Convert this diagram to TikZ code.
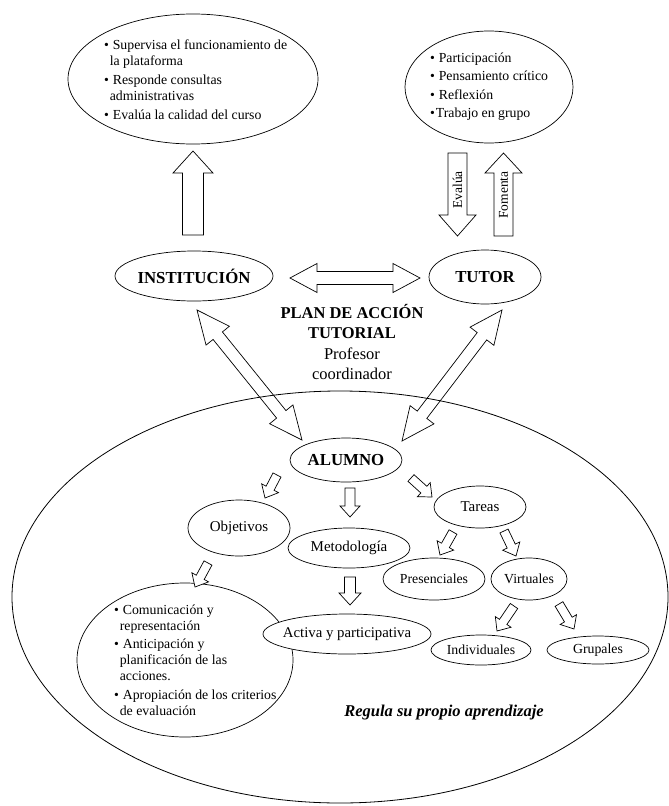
\documentclass[tikz,border=0pt]{standalone}
\usepackage{fontspec}
\setmainfont{Liberation Serif}
\usetikzlibrary{calc,shapes.geometric}

\newcommand\blockarrow[6][fill=white]{% style, tail, tip, w, h, L
  \coordinate (tmph) at ($(#3)!#6!(#2)$);
  \draw[barrow,#1] ($(#2)!#4!90:(#3)$) -- ($(tmph)!#4!90:(#3)$) -- ($(tmph)!#5!90:(#3)$) -- (#3) -- ($(tmph)!#5!-90:(#3)$) -- ($(tmph)!#4!-90:(#3)$) -- ($(#2)!#4!-90:(#3)$) -- cycle;
}
\newcommand\dblarrow[5]{% A, B, w, h, L
  \coordinate (tmpa) at ($(#1)!#5!(#2)$);
  \coordinate (tmpb) at ($(#2)!#5!(#1)$);
  \draw[barrow] (#1) -- ($(tmpa)!#4!90:(#2)$) -- ($(tmpa)!#3!90:(#2)$) -- ($(tmpb)!#3!-90:(#1)$) -- ($(tmpb)!#4!-90:(#1)$) -- (#2) -- ($(tmpb)!#4!90:(#1)$) -- ($(tmpb)!#3!90:(#1)$) -- ($(tmpa)!#3!-90:(#2)$) -- ($(tmpa)!#4!-90:(#2)$) -- cycle;
}
\newcommand\ellip[5][]{\node[ell,minimum width=#4*2pt,minimum height=#5*2pt,#1] (#2) at (#3) {};}

\tikzset{
  ell/.style={draw, ellipse, inner sep=0pt, outer sep=0pt, line width=0.7pt},
  barrow/.style={draw, line width=0.7pt, line join=miter},
  txt/.style={inner sep=0pt, outer sep=0pt},
  blt/.style={txt, anchor=base west, font=\fontsize{13.8}{16}\selectfont},
  lbl/.style={txt, font=\fontsize{15}{18}\selectfont},
  slbl/.style={txt, font=\fontsize{13.8}{16}\selectfont},
  bold/.style={txt, font=\fontsize{16.8}{20}\selectfont\bfseries},
}

\begin{document}
\begin{tikzpicture}[x=1pt,y=-1pt]
\useasboundingbox (0,0) rectangle (669,806);

% big ellipse (alumno area)
\ellip[line width=0.8pt]{area}{340,597}{328}{206}
% bullet ellipse in lower left
\ellip{comm}{185,660}{108}{77}
\ellip[fill=white]{activa}{347,634}{84}{20}

% top ellipses
\ellip{instbox}{193,79}{125}{65}
\ellip{tutbox}{489,87}{84}{56}

% main nodes
\ellip{inst}{194,276}{79}{25}
\ellip{tutor}{485,277}{56}{27}
\ellip{alumno}{346,460}{56}{22}
\ellip{obj}{239,528}{51}{28}
\ellip{met}{349,548}{61}{20}
\ellip{tar}{480,507}{46}{21}
\ellip{pres}{434,579}{51}{21}
\ellip{virt}{529,579}{38}{21}
\ellip{indiv}{481,650}{50}{15}
\ellip{grup}{598,650}{51}{14}

% texts
\node[blt] (instt) at (104,49) {\begin{tabular}[t]{@{}l@{\hspace{4pt}}l@{}}\textbullet & Supervisa el funcionamiento de\\ & \hspace*{-3pt}la plataforma\\[3pt]
\textbullet & Responde consultas\\ & \hspace*{-3pt}administrativas\\[3pt]
\textbullet & Evalúa la calidad del curso\end{tabular}};
\node[blt] (tutt) at (430,62) {\begin{tabular}[t]{@{}l@{\hspace{4pt}}l@{}}\textbullet & Participación\\[2.5pt]
\textbullet & Pensamiento crítico\\[2.5pt]
\textbullet & Reflexión\\[2.5pt]
\textbullet & \hspace*{-3pt}Trabajo en grupo\end{tabular}};
\node[blt] (commt) at (114,614) {\begin{tabular}[t]{@{}l@{\hspace{4pt}}l@{}}\textbullet & Comunicación y\\ & \hspace*{-3pt}representación\\[2pt]
\textbullet & Anticipación y\\ & \hspace*{-3pt}planificación de las\\ & \hspace*{-3pt}acciones.\\[3pt]
\textbullet & Apropiación de los criterios\\ & \hspace*{-3pt}de evaluación\end{tabular}};

\node[bold] (instl) at (inst.center) {INSTITUCIÓN};
\node[bold] (tutl) at (tutor.center) {TUTOR};
\node[bold] (alul) at (alumno.center) {ALUMNO};
\node[lbl] (objl) at (obj.center) {Objetivos};
\node[lbl] (metl) at (met.center) {Metodología};
\node[lbl] (tarl) at (tar.center) {Tareas};
\node[slbl] (presl) at (pres.center) {Presenciales};
\node[slbl] (virtl) at (virt.center) {Virtuales};
\node[slbl] (indl) at (indiv.center) {Individuales};
\node[slbl] (grul) at (grup.center) {Grupales};
\node[txt, font=\fontsize{14.8}{18}\selectfont] (actl) at (activa.center) {Activa y participativa};

\node[bold, anchor=base, font=\fontsize{16.5}{20}\selectfont\bfseries] (plan1) at (352,318) {PLAN DE ACCIÓN};
\node[bold, anchor=base, font=\fontsize{16.5}{20}\selectfont\bfseries] (plan2) at (352,338) {TUTORIAL};
\node[txt, anchor=base, font=\fontsize{16.5}{20}\selectfont] (plan3) at (352,359) {Profesor};
\node[txt, anchor=base, font=\fontsize{16.5}{20}\selectfont] (plan4) at (352,379) {coordinador};

\node[txt, anchor=base, font=\fontsize{16.5}{20}\selectfont\bfseries\itshape] (regula) at (444,716) {Regula su propio aprendizaje};

% arrow end points
\coordinate (upA) at (193,235); \coordinate (upB) at (193,151);
\coordinate (evA) at (457.5,153); \coordinate (evB) at (457.5,236);
\coordinate (foA) at (503.5,236); \coordinate (foB) at (503.5,153);
\coordinate (hA) at (290,278); \coordinate (hB) at (420,278);
\coordinate (lA) at (197,310); \coordinate (lB) at (302,440);
\coordinate (rA) at (502,310); \coordinate (rB) at (402,441);
\coordinate (aoA) at (277,475); \coordinate (aoB) at (265,498);
\coordinate (amA) at (350,488); \coordinate (amB) at (350,517);
\coordinate (atA) at (411,478); \coordinate (atB) at (432,497);
\coordinate (tpA) at (453,532); \coordinate (tpB) at (440,555);
\coordinate (tvA) at (504,531); \coordinate (tvB) at (516,556);
\coordinate (viA) at (514,606); \coordinate (viB) at (497,631);
\coordinate (vgA) at (559,604); \coordinate (vgB) at (574,629);
\coordinate (ocA) at (208,563); \coordinate (ocB) at (195,587);
\coordinate (maA) at (350,577); \coordinate (maB) at (350,605);

\blockarrow{upA}{upB}{10.5pt}{20pt}{22pt}
\blockarrow{evA}{evB}{9.5pt}{18.5pt}{21pt}
\blockarrow{foA}{foB}{9.5pt}{18.5pt}{20pt}
\node[txt, rotate=90, font=\fontsize{13.5}{16}\selectfont] (evl) at (457.5,190) {Evalúa};
\node[txt, rotate=90, font=\fontsize{13.5}{16}\selectfont] (fol) at (503.5,195) {Fomenta};

\dblarrow{hA}{hB}{6.5pt}{14.5pt}{27pt}
\dblarrow{lA}{lB}{6pt}{15pt}{33pt}
\dblarrow{rA}{rB}{6pt}{15pt}{33pt}

\blockarrow{aoA}{aoB}{4.5pt}{9.5pt}{11pt}
\blockarrow{amA}{amB}{5pt}{10pt}{11pt}
\blockarrow{atA}{atB}{4.5pt}{9.5pt}{11pt}
\blockarrow{tpA}{tpB}{4.5pt}{9.5pt}{11pt}
\blockarrow{tvA}{tvB}{4.5pt}{9.5pt}{11pt}
\blockarrow{viA}{viB}{4.5pt}{9.5pt}{11pt}
\blockarrow{vgA}{vgB}{4.5pt}{9.5pt}{11pt}
\blockarrow{ocA}{ocB}{4.5pt}{9.5pt}{11pt}
\blockarrow{maA}{maB}{5.5pt}{11pt}{12pt}
\end{tikzpicture}
\end{document}
